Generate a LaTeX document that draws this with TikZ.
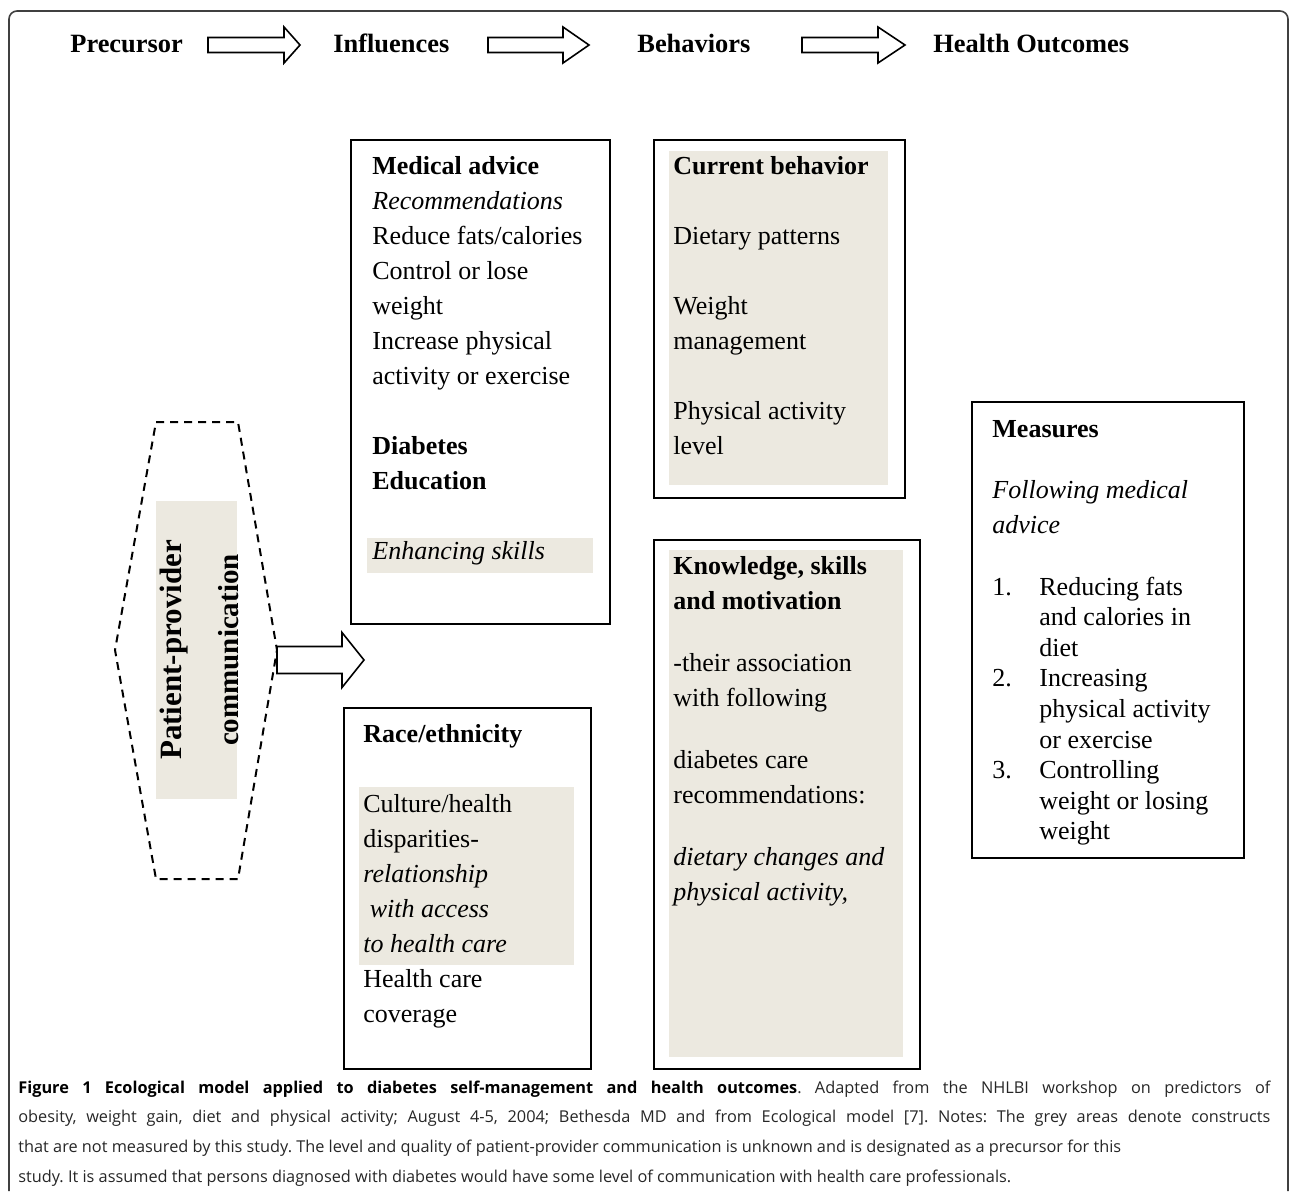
\documentclass[tikz,border=0pt]{standalone}
\usepackage{fontspec}
\setmainfont{Liberation Serif}
\newfontfamily\capfont{Open Sans}
\usepackage{tikz}
\definecolor{unmeasured}{HTML}{ECE9E0}
% hollow block arrow: start, shaft length, half shaft, half head, head length
\newcommand{\blockarrow}[5]{\draw[arrowline] (#1) ++(0,-#3) -- ++(#2,0) -- ++(0,#3-#4) -- ++(#5,#4) -- ++(-#5,#4) -- ++(0,#3-#4) -- ++(-#2,0) -- cycle;}
\newcommand{\rows}[1]{\begin{tabular}[t]{@{}l@{}}#1\end{tabular}}

\begin{document}
\begin{tikzpicture}[x=0.5pt,y=-0.5pt,
	box/.style={draw,line width=1pt,anchor=north west,inner sep=0pt},
	txt/.style={anchor=base west,inner sep=0pt,font=\fontsize{13}{17.5}\selectfont},
	head/.style={anchor=base west,inner sep=0pt,font=\fontsize{13.2}{16}\selectfont\bfseries},
	arrowline/.style={draw,line width=0.8pt,fill=white},
	grey/.style={fill=unmeasured}]
	\useasboundingbox (0,0) rectangle (1290,1191);
	\draw[black!75,line width=0.8pt,rounded corners=4pt] (9,1191) -- (9,11) -- (1288,11) -- (1288,1191);

	\node[head] (pre)  at (70,52)  {Precursor};
	\node[head] (infl) at (333,52) {Influences};
	\node[head] (beh)  at (637,52) {Behaviors};
	\node[head] (out)  at (933,52) {Health Outcomes};
	\coordinate (a1) at (208,45);
	\coordinate (a2) at (488,45);
	\coordinate (a3) at (802,45);
	\blockarrow{a1}{76}{7.5}{18}{16}
	\blockarrow{a2}{75}{7.5}{18}{26}
	\blockarrow{a3}{76}{7.5}{18}{27}

	% grey = not measured
	\fill[grey] (156,501) rectangle (237,799);
	\fill[grey] (367,538) rectangle (593,573);
	\fill[grey] (669,151) rectangle (888,485);
	\fill[grey] (669,550) rectangle (903,1057);
	\fill[grey] (359,787) rectangle (574,965);

	\draw[line width=1pt,dash pattern=on 4pt off 3pt] (156,422) -- (238,422) -- (277,650) -- (238,879) -- (156,879) -- (115,650) -- cycle;
	\node[rotate=90,anchor=base,inner sep=0pt,font=\fontsize{15.5}{18}\selectfont\bfseries] (ppc1) at (181,650) {Patient-provider};
	\node[rotate=90,anchor=base,inner sep=0pt,font=\fontsize{14.5}{18}\selectfont\bfseries] (ppc2) at (238,650) {communication};
	\coordinate (ppcout) at (277,660);
	\blockarrow{ppcout}{65}{13.5}{27.5}{22}

	\node[box,minimum width=129.5pt,minimum height=242pt] (advice) at (350,139) {};
	\node[box,minimum width=125.5pt,minimum height=179pt] (behav) at (653,139) {};
	\node[box,minimum width=133pt,minimum height=264.5pt] (knowl) at (653,539) {};
	\node[box,minimum width=123.5pt,minimum height=180.5pt] (race) at (343,707) {};
	\node[box,minimum width=136pt,minimum height=228pt] (meas) at (971,401) {};

	\node[txt] (advtxt) at (372,174) {\rows{\textbf{Medical advice}\\ \textit{Recommendations}\\ Reduce fats/calories\\ Control or lose\\ weight\\ Increase physical\\ activity or exercise\\[17.5pt] \textbf{Diabetes}\\ \textbf{Education}\\[17.5pt] \textit{Enhancing skills}}};
	\node[txt] (behtxt) at (673,174) {\rows{\textbf{Current behavior}\\[17.5pt] Dietary patterns\\[17.5pt] Weight\\ management\\[17.5pt] Physical activity\\ level}};
	\node[txt] (knotxt) at (673,574) {\rows{\textbf{Knowledge, skills}\\ \textbf{and motivation}\\[13.5pt] -their association\\ with following\\[13.5pt] diabetes care\\ recommendations:\\[13.5pt] \textit{dietary changes and}\\ \textit{physical activity,}}};
	\node[txt] (racetxt) at (363,742) {\rows{\textbf{Race/ethnicity}\\[17.5pt] Culture/health\\ disparities-\\ \textit{relationship}\\ \textit{\ with access}\\ \textit{to health care}\\ Health care\\ coverage}};
	\node[txt] (meastxt) at (992,437) {\rows{\textbf{Measures}\\[13pt] \textit{Following medical}\\ \textit{advice}}};
	\node[anchor=base west,inner sep=0pt,font=\fontsize{13}{15.3}\selectfont] (measlist) at (992,595) {\begin{tabular}[t]{@{}p{23.5pt}@{}l@{}}
		1. & Reducing fats\\ & and calories in\\ & diet\\
		2. & Increasing\\ & physical activity\\ & or exercise\\
		3. & Controlling\\ & weight or losing\\ & weight
	\end{tabular}};

	\node[anchor=base west,inner sep=0pt,text=black!85,font=\capfont\fontsize{8.15}{14.85}\selectfont\frenchspacing] (cap) at (18,1093) {\rows{\makebox[626pt][s]{\textbf{\color{black}Figure 1 Ecological model applied to diabetes self-management and health outcomes}. Adapted from the NHLBI workshop on predictors of}\\
	\makebox[626pt][s]{obesity, weight gain, diet and physical activity; August 4-5, 2004; Bethesda MD and from Ecological model [7]. Notes: The grey areas denote constructs}\\
	that are not measured by this study. The level and quality of patient-provider communication is unknown and is designated as a precursor for this\\
	study. It is assumed that persons diagnosed with diabetes would have some level of communication with health care professionals.}};
\end{tikzpicture}
\end{document}
